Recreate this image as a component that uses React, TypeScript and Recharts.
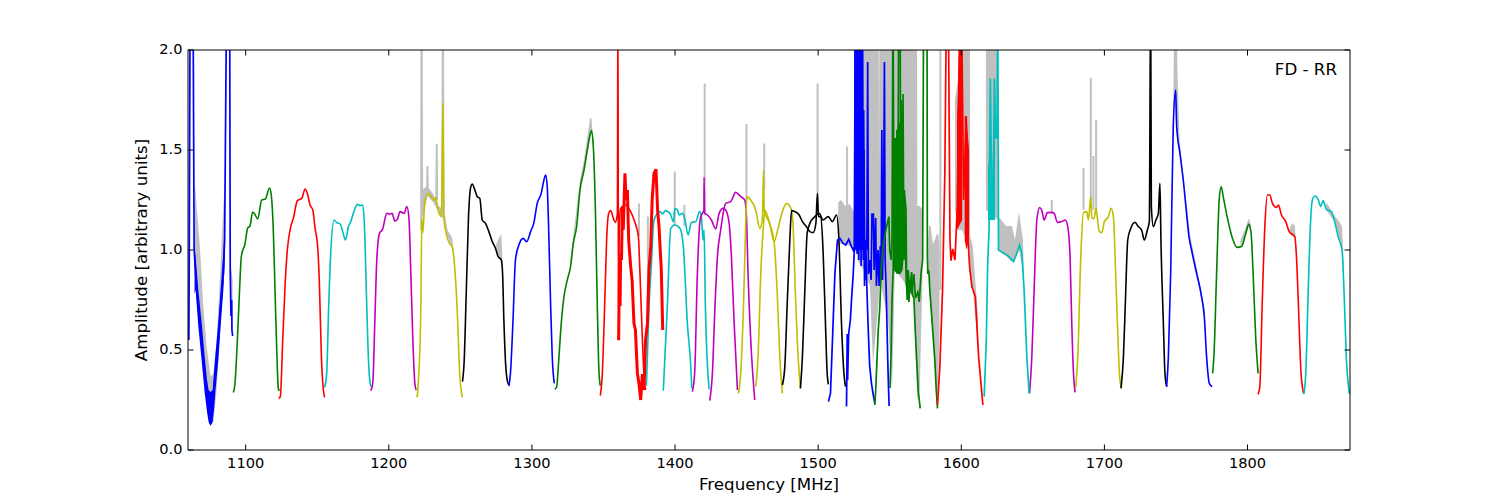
import React from 'react';
import { ComposedChart, Line, Area, XAxis, YAxis } from 'recharts';

type Pt = [number, number | null];
type Band = [number, number, number];

const freqDomain = [1059.7, 1871.6];
const ampDomain = [0, 2];
const freqTicks = [1100, 1200, 1300, 1400, 1500, 1600, 1700, 1800];
const ampTicks = [0, 0.5, 1, 1.5, 2];

// [MHz, amplitude], one array per sub-band
const blue1: Pt[] = [[1060.3,0.55],[1060.6,1],[1061.2,2.3],[1063.2,2.3],[1064,1],[1065,0.88],[1066.9,0.72],[1069.2,0.55],[1071.3,0.38],[1074.1,0.22],[1075.5,0.13],[1076.9,0.22],[1078.8,0.38],[1080.9,0.55],[1082.5,0.72],[1084.4,0.88],[1085.3,1.05],[1086.7,2.3],[1088.8,2.3],[1089.2,0.9],[1089.7,0.67],[1090.2,0.75],[1090.4,0.6],[1090.9,0.57]];
const green1: Pt[] = [[1091.4,0.287],[1092.5,0.33],[1094.2,0.55],[1095.6,0.78],[1097,0.97],[1099.5,1.03],[1101.4,1.11],[1103,1.12],[1104.9,1.19],[1106.3,1.18],[1108.4,1.155],[1111.2,1.25],[1113.8,1.255],[1116.6,1.31],[1117.7,1.285],[1119.3,1.1],[1120.5,0.8],[1121.7,0.5],[1122.8,0.31],[1123.5,0.295]];
const red1: Pt[] = [[1123.1,0.258],[1124.2,0.267],[1125.9,0.55],[1127.7,0.85],[1129.1,1],[1131.5,1.117],[1133.3,1.158],[1136.1,1.247],[1139.2,1.258],[1141.5,1.305],[1143.1,1.283],[1145,1.225],[1146.9,1.2],[1148.5,1.108],[1150.3,1.017],[1151.5,0.833],[1152.9,0.467],[1154.3,0.3],[1155.2,0.263]];
const cyan1: Pt[] = [[1155.2,0.313],[1156.6,0.383],[1158,0.717],[1159.4,0.983],[1161.8,1.15],[1163.6,1.137],[1166,1.13],[1167.8,1.092],[1169.7,1.05],[1171.8,1.117],[1173.4,1.142],[1175.8,1.197],[1178.1,1.228],[1180,1.222],[1181.8,1.225],[1183,1.117],[1184.6,0.717],[1186,0.417],[1187.4,0.317]];
const magenta1: Pt[] = [[1187.4,0.297],[1188.8,0.333],[1190.2,0.633],[1191.6,0.95],[1193.5,1.083],[1195.6,1.103],[1198.6,1.183],[1200.5,1.18],[1202.3,1.183],[1204.2,1.145],[1206.1,1.155],[1207.9,1.192],[1210.7,1.183],[1212.6,1.217],[1214,1.167],[1215.4,0.883],[1216.8,0.55],[1218.2,0.333],[1219.1,0.3]];
const yellow1: Pt[] = [[1219.8,0.263],[1221,0.383],[1222.4,0.717],[1223.1,1.155],[1223.8,1.087],[1224.9,1.217],[1227,1.28],[1228.9,1.275],[1231.7,1.247],[1232.6,1.263],[1234.7,1.192],[1236.8,1.167],[1237.8,1.733],[1238.5,1.158],[1240.1,1.083],[1242.5,1.03],[1244.3,1.017],[1246.2,0.9],[1248,0.667],[1249.4,0.4],[1251.3,0.263]];
const black1: Pt[] = [[1251.5,0.342],[1252.7,0.45],[1254.1,0.783],[1255.7,1.167],[1257.3,1.317],[1258.3,1.33],[1260,1.303],[1261.8,1.267],[1263.6,1.258],[1265.3,1.15],[1267.6,1.133],[1269.9,1.092],[1272.3,1.042],[1274.6,1.008],[1276.2,0.97],[1278.6,0.95],[1279.5,0.883],[1280.4,0.65],[1281.6,0.433],[1282.8,0.347],[1283.9,0.325]];
const blue2: Pt[] = [[1283.9,0.32],[1285,0.383],[1286.7,0.633],[1288.5,0.95],[1290.9,1.025],[1293.9,1.058],[1296.3,1.042],[1299.1,1.092],[1301.4,1.137],[1303.7,1.233],[1306.5,1.283],[1308.4,1.35],[1309.6,1.375],[1310.7,1.317],[1311.9,1.05],[1313.1,0.717],[1314.2,0.467],[1315.6,0.333]];
const green2: Pt[] = [[1315.9,0.305],[1317.2,0.313],[1318.9,0.467],[1320.5,0.633],[1322.4,0.767],[1324.7,0.85],[1327,0.917],[1328.9,1.033],[1331.2,1.117],[1333.6,1.3],[1336.4,1.4],[1338.7,1.5],[1340.6,1.575],[1341.5,1.597],[1342.9,1.517],[1344.3,1.217],[1345.7,0.717],[1346.9,0.383],[1347.8,0.322]];
const red2: Pt[] = [[1347.8,0.272],[1349.2,0.383],[1350.8,0.717],[1352.2,1.05],[1353.6,1.183],[1355,1.197],[1356.9,1.158],[1358.3,1.138],[1359.7,1.183],[1360.1,2.3],[1360.5,0.55],[1361,1.1],[1362,1.208],[1365.5,1.225],[1369,1.192],[1371.8,1.142],[1374.4,1.067],[1375.5,0.883],[1377.2,0.55],[1378.5,0.35],[1379.5,0.3]];
const red2Dense: Pt[] = [[1360.6,0.55],[1361.2,0.95],[1361.6,0.72],[1362,0.983],[1362.6,0.95],[1363.2,1.217],[1363.8,1.1],[1365,1.383],[1365.8,1.25],[1366.7,1.3],[1367.6,1.05],[1369,0.917],[1370,0.85],[1371.3,0.633],[1372.3,0.6],[1373.7,0.383],[1374.8,0.33],[1376,0.25],[1377.2,0.38],[1378.3,0.3],[1379.4,0.55],[1380.7,0.633],[1381.8,0.9],[1383,1.017],[1384,1.25],[1385.3,1.383],[1386.7,1.403],[1387.8,1.2],[1388.8,1.117],[1390.4,0.9],[1391.4,0.6]];
const cyan2: Pt[] = [[1380,0.322],[1381.8,0.717],[1383.4,0.92],[1385.3,1.15],[1389.5,1.192],[1391.1,1.18],[1393.4,1.197],[1396.7,1.18],[1399,1.14],[1399.8,1.208],[1401.7,1.2],[1402.8,1.175],[1405.1,1.183],[1406.8,1.158],[1409.1,1.075],[1411.4,1.137],[1414.5,1.142],[1417.2,1.192],[1418.4,1.167],[1419.6,1.05],[1420.3,1.1],[1421.2,0.717],[1423.8,0.303]];
const cyan3: Pt[] = [[1391.8,0.297],[1394.6,0.717],[1397,1.108],[1399.8,1.125],[1403.5,1.108],[1405.8,1.017],[1408.6,0.633],[1411,0.417],[1411.7,0.308]];
const magenta2: Pt[] = [[1412.1,0.292],[1413.7,0.383],[1415.6,0.883],[1417.5,1.15],[1419.1,1.183],[1420.2,1.2],[1420.3,1.363],[1420.7,1.183],[1422.6,1.175],[1425.4,1.15],[1428.4,1.105],[1430.8,1.183],[1433.6,1.208],[1435.4,1.2],[1437.8,1.133],[1439.4,0.967],[1441.3,0.633],[1443.6,0.3]];
const magenta3: Pt[] = [[1424.2,0.247],[1426.1,0.383],[1427.9,0.717],[1429.6,0.967],[1431.9,1.1],[1435.4,1.233],[1438.9,1.242],[1442.4,1.288],[1445.9,1.267],[1448.7,1.25],[1449.9,1.167],[1451,0.883],[1452.9,0.55],[1455.7,0.25]];
const yellow2: Pt[] = [[1444.3,0.283],[1445.9,0.383],[1447.8,0.717],[1449.4,1.133],[1450.1,1.267],[1452.9,1.25],[1456.4,1.2],[1459.2,1.108],[1461.1,1.158],[1461.8,1.4],[1462.3,1.2],[1466.2,1.13],[1469.2,1.042],[1472,1.108],[1474.5,1.18],[1477.9,1.233],[1481.4,1.2],[1482.5,1.117],[1484,0.8],[1486,0.467],[1487.6,0.308]];
const yellow3: Pt[] = [[1456.4,0.317],[1458,0.467],[1459.9,0.883],[1461.7,1.117],[1462.7,1.2],[1466.2,1.13],[1469.2,1.04],[1471.3,0.8],[1473.2,0.467],[1475,0.283]];
const black2: Pt[] = [[1475,0.325],[1476.7,0.417],[1478.3,0.717],[1480.2,1.05],[1481.4,1.197],[1483.7,1.192],[1486.7,1.175],[1489,1.142],[1491.8,1.117],[1494.2,1.092],[1496.5,1.087],[1498.4,1.133],[1499.5,1.283],[1500.2,1.167],[1501.9,1.167],[1503.5,0.983],[1505.1,0.633],[1506.3,0.383],[1507.2,0.328]];
const black3: Pt[] = [[1487.6,0.308],[1489,0.467],[1490.7,0.8],[1492.3,1.083],[1494.2,1.133],[1497.7,1.167],[1500.7,1.183],[1503.5,1.15],[1507,1.167],[1510,1.142],[1512.8,1.175],[1514.5,1.05],[1516.3,0.633],[1518,0.383],[1519.1,0.317]];
const blue3: Pt[] = [[1507.2,0.242],[1508.6,0.283],[1510,0.55],[1511.7,0.883],[1513.5,1.05],[1515.2,1.058],[1517.5,1.033],[1519.3,1.025],[1521.4,1.053],[1523.3,1.017],[1525.2,0.99],[1526,2.3],[1526.8,1],[1527.6,2.3],[1528.4,0.95],[1529.2,2.3],[1530,0.92],[1531,2.3],[1531.5,0.95],[1532,1.5],[1532.6,0.85],[1533.4,1],[1534,0.82],[1534.3,0.75],[1535,0.6],[1536,0.42],[1537.3,0.33],[1538.4,0.28],[1539.6,0.233]];
const blue4: Pt[] = [[1519.8,0.217],[1520,0.35],[1520.3,0.58],[1520.6,0.35],[1521.3,0.58],[1522.5,0.65],[1523.3,0.75],[1524.5,0.88],[1525.3,1],[1526.5,1.05],[1527.3,0.98],[1528,2.3],[1528.6,1],[1530.4,2.3],[1531,1],[1531.8,1.7],[1532.4,0.82],[1533.3,1.05],[1534,1],[1534.6,1.94],[1535.1,0.88],[1536,0.95],[1537,0.85],[1537.6,1.18],[1538.6,1.18],[1539.1,0.9],[1540.2,1.16],[1540.7,0.82],[1541.8,1],[1542.6,0.82],[1543.4,1.02],[1544,0.85],[1544.5,1.6],[1544.9,0.85],[1545.6,1.1],[1546.3,1.94],[1546.8,0.95],[1547.5,0.8],[1548,0.65],[1548.8,0.4],[1549.2,0.3],[1549.6,0.22]];
const green3: Pt[] = [[1539.6,0.225],[1540.2,0.3],[1541.2,0.467],[1542,0.6],[1543.1,0.717],[1544,0.9],[1545,1],[1546,1.05],[1547.8,1.117],[1549.4,1.167],[1550,1],[1551,0.95],[1551.6,1.05],[1552.3,2.3],[1553,1],[1553.8,1.56],[1554.3,0.95],[1555,1.6],[1555.5,0.9],[1556.3,2.3],[1557.3,2.3],[1557.6,1],[1557.9,1.75],[1558.3,0.95],[1558.7,1.62],[1559,1],[1559.3,1.78],[1559.9,0.95],[1560.5,1.25],[1561.3,0.917],[1562.2,0.75],[1562.9,0.9],[1564.1,0.79],[1565.3,0.89],[1566,0.775],[1566.9,0.76],[1567.6,0.633],[1568.8,0.45],[1569.9,0.3],[1571.3,0.208]];
const green4: Pt[] = [[1550.2,0.31],[1551,0.5],[1551.6,0.75],[1552.4,0.9],[1553.2,1.5],[1553.9,1.05],[1554.6,1.55],[1555.2,1],[1555.8,1.5],[1556.6,1],[1557.1,1.4],[1557.5,0.9],[1558,1.5],[1558.6,0.95],[1559.6,1.1],[1560.2,1.3],[1561.4,1.2],[1561.8,0.82],[1562.5,0.9],[1563.4,0.74],[1564.3,0.85],[1565.5,0.78],[1566.8,0.88],[1568,0.76],[1569.6,0.79],[1570.6,0.74],[1572,0.892],[1573,0.95],[1573.8,2.5],[1576,2.5],[1576.3,0.98],[1576.6,0.88],[1577,0.9],[1577.5,0.88],[1578,0.8],[1579.2,0.683],[1581.5,0.45],[1582.5,0.3],[1583.4,0.208]];
const red3: Pt[] = [[1583.4,0.225],[1585,0.417],[1586.9,0.8],[1588.5,1.383],[1589.7,2.3],[1590.9,2.3],[1592.1,1.05],[1592.8,0.947],[1594,1.005],[1595.6,0.95],[1597.2,1.217],[1597.9,1.633],[1599.1,2.3],[1600.1,2.3],[1601.6,1.25],[1603.5,1.667],[1604.4,1.1],[1605.8,0.917],[1607.4,0.817],[1609.8,0.767],[1612.1,0.467],[1615.1,0.225]];
const cyan4: Pt[] = [[1616,0.267],[1617.5,0.55],[1618.4,0.917],[1619.4,1.1],[1620.3,1.858],[1621.4,1.2],[1622.3,1.15],[1623.1,1.858],[1624.1,1.56],[1625,1.56],[1625.5,2.3],[1626,1],[1630,0.983],[1633.4,0.967],[1636.5,0.942],[1638.8,0.983],[1640.7,1.025],[1642.3,0.983],[1643.9,0.8],[1645.8,0.467],[1647.4,0.283]];
const magenta4: Pt[] = [[1647.7,0.283],[1649.3,0.467],[1650.9,0.8],[1652.8,1.15],[1654.7,1.212],[1656.3,1.197],[1657.9,1.15],[1660.2,1.187],[1663.2,1.188],[1664.9,1.183],[1667.2,1.138],[1670.2,1.142],[1672.6,1.15],[1674.4,1.117],[1676,0.967],[1677.2,0.633],[1678.4,0.383],[1679.5,0.288]];
const yellow4: Pt[] = [[1680,0.313],[1681.4,0.467],[1683.5,0.967],[1685.3,1.187],[1687.7,1.192],[1688.8,1.15],[1690.5,1.267],[1691.2,1.158],[1692.8,1.158],[1694.2,1.208],[1695.1,1.158],[1696.5,1.092],[1698.1,1.087],[1700,1.142],[1702.8,1.167],[1704.7,1.208],[1706.3,1.167],[1707.7,0.917],[1709.1,0.633],[1710.5,0.383],[1711.6,0.312]];
const black4: Pt[] = [[1711.6,0.308],[1713.3,0.467],[1714.7,0.75],[1716.3,1.05],[1718.4,1.108],[1721.4,1.138],[1723.7,1.117],[1726,1.1],[1727.9,1.05],[1730,1.1],[1731.4,1.142],[1732.3,2.3],[1732.8,1.217],[1734.2,1.117],[1736,1.15],[1737.7,1.183],[1738.8,1.333],[1739.5,1.05],[1741.2,0.633],[1742.3,0.383],[1743.5,0.317]];
const blue5: Pt[] = [[1743.5,0.317],[1744.7,0.467],[1746.3,0.883],[1748.1,1.617],[1749.8,1.8],[1750.5,1.617],[1752.8,1.483],[1755.1,1.35],[1757.4,1.183],[1759.1,1.067],[1760.9,1],[1764.4,0.883],[1767.9,0.767],[1769.8,0.667],[1771.4,0.467],[1773.3,0.333],[1775.3,0.317]];
const green5: Pt[] = [[1775.6,0.383],[1776.5,0.467],[1778.4,0.883],[1780.2,1.25],[1781.6,1.317],[1783,1.267],[1786.5,1.142],[1789.5,1.058],[1792.8,1.013],[1795.8,1.017],[1798.8,1.083],[1800.9,1.128],[1802.5,1.083],[1803.9,0.883],[1805.8,0.55],[1807.4,0.383]];
const red4: Pt[] = [[1807.4,0.278],[1808.6,0.317],[1810.2,0.717],[1812.1,1.117],[1813.9,1.275],[1815.6,1.275],[1817.4,1.233],[1820.2,1.213],[1821.6,1.225],[1823.7,1.175],[1826.7,1.142],[1829.1,1.092],[1833,1.067],[1834.2,0.967],[1835.6,0.717],[1837.4,0.383],[1839.3,0.28]];
const cyan5: Pt[] = [[1839.3,0.28],[1840.7,0.383],[1842.1,0.717],[1843.5,1.05],[1845.3,1.25],[1847,1.27],[1849.3,1.253],[1851.2,1.217],[1852.8,1.247],[1855.1,1.203],[1858.6,1.192],[1860.9,1.142],[1863.3,1.067],[1866,1],[1867.4,0.8],[1869,0.467],[1871.2,0.28]];

// unflagged data, thin spikes; null breaks the line
const rawSpikes: Pt[] = [[1222.6,1.1],[1222.9,2.3],[1223.3,1.2],[null as any,null],[1226.7,1.28],[1227,1.42],[1227.3,1.28],[null as any,null],[1233.2,1.25],[1233.5,1.53],[1233.8,1.25],[null as any,null],[1237.4,1.2],[1237.8,2.3],[1238.2,1.2],[null as any,null],[1374.8,1.07],[1374.8,1.233],[null as any,null],[1381,0.8],[1381,1.167],[null as any,null],[1399.8,1.12],[1399.8,1.392],[null as any,null],[1406.5,1.12],[1406.5,1.225],[null as any,null],[1420.7,1.18],[1420.7,1.833],[null as any,null],[1449.9,1.25],[1449.9,1.63],[null as any,null],[1462.3,1.3],[1462.3,1.533],[null as any,null],[1499.6,1.2],[1499.6,1.833],[null as any,null],[1520.2,1.2],[1520.2,1.517],[null as any,null],[1585.4,0.8],[1585.4,2.3],[null as any,null],[1663.2,1.18],[1663.2,1.25],[null as any,null],[1685.4,1.2],[1685.4,1.41],[null as any,null],[1690.5,1.25],[1690.5,1.86],[null as any,null],[1692.3,1.2],[1692.3,1.47],[null as any,null],[1694.2,1.2],[1694.2,1.65]];

// [MHz, low, high] where the raw trace is too dense to follow
const rawDip: Band[] = [[1064.6,0.95,1.333],[1065.7,0.85,1.217],[1068,0.7,1.017],[1070.4,0.5,0.717],[1072.7,0.3,0.517],[1075.5,0.13,0.367],[1077.4,0.14,0.383],[1079.7,0.3,0.55],[1082,0.6,0.85],[1084.4,0.9,1.217],[1085.5,1,1.35]];
const rawDipEnd: Band[] = [[1089.5,0.75,0.93],[1090.9,0.6,0.85]];
const rawRise1: Band[] = [[1223,1.15,1.3],[1227,1.27,1.32],[1231,1.24,1.28],[1234.7,1.19,1.22],[1238.5,1.15,1.2],[1241,1.07,1.1],[1244.3,1.01,1.06],[1246.2,0.89,0.93]];
const rawRise2: Band[] = [[1275,1,1.03],[1277,0.96,1.06],[1278.6,0.95,1.08],[1279.5,0.88,0.95]];
const rawRise3: Band[] = [[1327,0.92,0.96],[1333.6,1.3,1.35],[1336.4,1.4,1.45],[1340.6,1.57,1.66],[1341.5,1.6,1.66],[1343,1.5,1.55]];
const rawBlockA: Band[] = [[1514,1.03,1.24],[1516,1.03,1.25],[1519,1.03,1.22],[1522,1.02,1.23],[1525,1,1.19],[1527,1,1.25],[1527.3,0.95,2.3],[1532,0.9,2.3],[1536.2,0.82,2.3],[1538.3,0.43,2.3],[1541.1,0.65,2.3],[1542.3,0.75,2.3],[1542.5,0.8,1.35],[1542.8,0.85,2.3],[1543.2,0.85,2.3],[1548.8,0.65,2.3],[1551.6,0.3,2.3],[1553.6,0.9,2.3],[1559.2,0.85,2.3],[1567,0.75,2.3],[1569,0.3,2.3],[1569.3,0.25,1.22],[1571,0.3,1.22],[1573,0.9,1.2]];
const rawBlockB: Band[] = [[1576.9,0.9,1.05],[1577.4,0.82,1.12],[1578.5,0.72,1.12],[1580.2,0.55,1.03],[1581.5,0.45,1.05],[1583,0.22,1.08],[1584,0.4,1.08],[1584.8,0.6,1]];
const rawBlockC: Band[] = [[1595.6,1.2,1.75],[1597.7,1.1,1.85],[1600.5,1.1,2.3],[1606,1,2.3],[1606.2,0.9,1.07],[1608,0.8,1.02],[1611.7,0.52,0.66]];
const rawBlockD: Band[] = [[1617.2,1.2,2.3],[1625.6,1.15,2.3],[1626.1,1,1.16],[1627,0.99,1.16],[1631.2,0.97,1.12],[1635.4,0.94,1.12],[1637.5,0.96,1.05],[1640.3,1,1.19],[1643.1,0.9,1.05],[1644,0.75,0.8]];
const rawPeak: Band[] = [[1748,1.6,1.65],[1749,1.75,2.3],[1750.5,1.6,2.3],[1751,1.55,1.9],[1752.5,1.48,1.55],[1755,1.35,1.38],[1760,1.03,1.07],[1766,0.82,0.86],[1770,0.65,0.7]];
const rawTail1: Band[] = [[1795,1.01,1.05],[1798,1.06,1.1],[1800.9,1.12,1.16],[1802.5,1.08,1.12]];
const rawTail2: Band[] = [[1829,1.09,1.1],[1831,1.07,1.13],[1833,1.06,1.125],[1834.2,0.96,1]];
const rawTail3: Band[] = [[1855,1.2,1.24],[1860.9,1.14,1.17],[1863.3,1.06,1.15],[1866,1,1.12],[1867.4,0.8,0.9]];

const denseBlueDip: Band[] = [[1064.3,0.78,1],[1065,0.8,0.97],[1066.9,0.62,0.8],[1069.2,0.45,0.64],[1071.3,0.29,0.47],[1073,0.19,0.35],[1074.1,0.14,0.3],[1075.5,0.12,0.29],[1076.9,0.14,0.3],[1078,0.21,0.4],[1078.8,0.29,0.47],[1080.9,0.45,0.64],[1082.5,0.62,0.8],[1084.4,0.8,0.99],[1085.3,0.93,1.12]];
const denseBlueRfi: Band[] = [[1525.2,1,2.3],[1530.9,1,2.3],[1531.3,1,1.65],[1532,0.95,1.3]];
const denseGreen: Band[] = [[1552.8,0.9,1.45],[1555,0.88,1.6],[1557.5,0.88,1.65],[1559,0.9,1.75],[1559.6,0.95,1.3]];
const denseRedA: Band[] = [[1597,1.1,1.65],[1600.6,1.15,2.3]];
const denseRedB: Band[] = [[1602.4,1.05,1.67],[1603.6,1,1.67],[1605.4,1.05,1.5]];
const denseCyan: Band[] = [[1618.7,1.15,1.45],[1621.3,1.15,1.3],[1623.6,1.15,1.86]];

const matBlue = '#0000ff';
const matGreen = '#008000';
const matRed = '#ff0000';
const matCyan = '#00bfbf';
const matMagenta = '#bf00bf';
const matYellow = '#bfbf00';
const rawGrey = '#c0c0c0';

const smoothTraces: [Pt[], string][] = [
  [green1, matGreen], [red1, matRed], [cyan1, matCyan], [magenta1, matMagenta], [yellow1, matYellow],
  [black1, '#000'], [blue2, matBlue], [green2, matGreen], [red2, matRed], [cyan2, matCyan], [cyan3, matCyan],
  [magenta2, matMagenta], [magenta3, matMagenta], [yellow2, matYellow], [yellow3, matYellow],
  [black2, '#000'], [black3, '#000'], [magenta4, matMagenta], [yellow4, matYellow], [black4, '#000'],
  [blue5, matBlue], [green5, matGreen], [red4, matRed], [cyan5, matCyan],
];
const jaggedTraces: [Pt[], string, number][] = [
  [blue1, matBlue, 1.7], [red2Dense, matRed, 3], [blue3, matBlue, 1.7], [blue4, matBlue, 1.7],
  [green3, matGreen, 1.7], [green4, matGreen, 1.7], [red3, matRed, 1.7], [cyan4, matCyan, 1.7],
];
const rawBands = [rawDip, rawDipEnd, rawRise1, rawRise2, rawRise3, rawBlockA, rawBlockB, rawBlockC, rawBlockD, rawPeak, rawTail1, rawTail2, rawTail3];
const denseBands: [Band[], string][] = [
  [denseBlueDip, matBlue], [denseBlueRfi, matBlue], [denseGreen, matGreen], [denseRedA, matRed], [denseRedB, matRed], [denseCyan, matCyan],
];

const toRows = (pts: Pt[]) => pts.map(([f, a]) => ({ f, a }));
const toBandRows = (pts: Band[]) => pts.map(([f, low, high]) => ({ f, range: [low, high] }));

const fontFamily = '"DejaVu Sans"';
const tickFont = 14.6;
const labelFont = 16.67;

const App: React.FC = () => {
  return (
    <div style={{ position: 'absolute', left: 0, top: 0, width: 1500, height: 500, background: '#fff', fontFamily }}>
      <ComposedChart width={1500} height={500} margin={{ top: 49, right: 149, bottom: 0, left: 128 }}>
        <XAxis
          dataKey="f"
          type="number"
          domain={freqDomain}
          ticks={freqTicks}
          allowDataOverflow
          height={50}
          stroke="#000"
          tickSize={-5.5}
          tickMargin={13}
          tick={{ fill: '#000', fontSize: tickFont }}
          tickLine={{ stroke: '#000' }}
          interval={0}
          label={{ value: 'Frequency [MHz]', position: 'insideBottom', offset: 10, fill: '#000', fontSize: labelFont }}
        />
        <XAxis xAxisId="top" orientation="top" dataKey="f" type="number" domain={freqDomain} ticks={freqTicks} allowDataOverflow height={1} stroke="#000" tickSize={-5.5} tickLine={{ stroke: '#000' }} tickFormatter={() => ''} interval={0} />
        <YAxis
          type="number"
          domain={ampDomain}
          ticks={ampTicks}
          allowDataOverflow
          width={60}
          stroke="#000"
          tickSize={-5.5}
          tickMargin={11}
          tick={{ fill: '#000', fontSize: tickFont, dy: -1 }}
          tickLine={{ stroke: '#000' }}
          tickFormatter={(v: number) => v.toFixed(1)}
          interval={0}
          label={{ value: 'Amplitude [arbitrary units]', angle: -90, position: 'insideLeft', offset: 13, fill: '#000', fontSize: labelFont, style: { textAnchor: 'middle' } }}
        />
        <YAxis yAxisId="right" orientation="right" type="number" domain={ampDomain} ticks={ampTicks} allowDataOverflow width={1} stroke="#000" tickSize={-5.5} tickLine={{ stroke: '#000' }} tickFormatter={() => ''} interval={0} />

        {rawBands.map((band, i) => (
          <Area key={`raw-${i}`} data={toBandRows(band)} dataKey="range" type="linear" fill={rawGrey} fillOpacity={1} stroke="none" dot={false} activeDot={false} isAnimationActive={false} />
        ))}
        <Line data={toRows(rawSpikes)} dataKey="a" type="linear" stroke={rawGrey} strokeWidth={2} dot={false} activeDot={false} isAnimationActive={false} />
        {denseBands.map(([band, color], i) => (
          <Area key={`dense-${i}`} data={toBandRows(band)} dataKey="range" type="linear" fill={color} fillOpacity={1} stroke="none" dot={false} activeDot={false} isAnimationActive={false} />
        ))}
        {smoothTraces.map(([pts, color], i) => (
          <Line key={`smooth-${i}`} data={toRows(pts)} dataKey="a" type="monotoneX" stroke={color} strokeWidth={1.6} dot={false} activeDot={false} isAnimationActive={false} />
        ))}
        {jaggedTraces.map(([pts, color, width], i) => (
          <Line key={`jagged-${i}`} data={toRows(pts)} dataKey="a" type="linear" stroke={color} strokeWidth={width} dot={false} activeDot={false} isAnimationActive={false} />
        ))}
        <text x={1337} y={75} textAnchor="end" fontSize={labelFont} fill="#000">FD - RR</text>
      </ComposedChart>
    </div>
  );
};

export default App;
